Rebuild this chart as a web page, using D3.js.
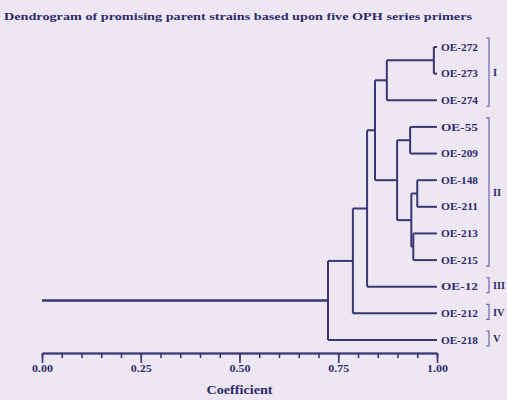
<!DOCTYPE html>
<html><head><meta charset="utf-8">
<script src="https://cdn.jsdelivr.net/npm/d3@7"></script>
<style>
html,body{margin:0;padding:0;background:#ece7f2;}
svg{display:block;}
text{font-family:"Liberation Serif","DejaVu Serif",serif;font-weight:bold;fill:#2e2b6b;}
</style></head>
<body>
<svg id="chart" width="507" height="400"></svg>
<script>
// ---- data ----
const titleText = "Dendrogram of promising parent strains based upon five OPH series primers";
const axisTitle = "Coefficient";
const leafNames = ["OE-272","OE-273","OE-274","OE-55","OE-209","OE-148","OE-211","OE-213","OE-215","OE-12","OE-212","OE-218"];
// merges (linkage): node ids 0..11 are leaves, merge k creates node 12+k
const mergeA = [0, 12, 3, 5, 7, 15, 14, 13, 19, 20, 21];
const mergeB = [1, 2, 4, 6, 8, 16, 17, 18, 9, 10, 11];
const mergeHeight = [0.992, 0.873, 0.932, 0.950, 0.940, 0.935, 0.899, 0.843, 0.823, 0.787, 0.724];
const tickValuesMajor = [0, 0.25, 0.5, 0.75, 1.0];
const tickValuesMinor = d3.range(0, 21).map(i => i / 20);
const groupNames = ["I","II","III","IV","V"];
const groupFirst = ["OE-272","OE-55","OE-12","OE-212","OE-218"];
const groupLast  = ["OE-274","OE-215","OE-12","OE-212","OE-218"];

// ---- drawing ----
const svg = d3.select("#chart");
const ink = "#3a3573";
const x = d3.scaleLinear().domain([0, 1]).range([42, 437]);
const y = d3.scalePoint().domain(leafNames).range([47, 340]);

svg.append("text").attr("x", 4).attr("y", 20)
  .attr("font-size", 11).attr("textLength", 468).attr("lengthAdjust", "spacingAndGlyphs")
  .text(titleText);

// node positions
const nodes = leafNames.map(n => ({y: y(n), h: 1}));
mergeA.forEach((a, k) => {
  const b = mergeB[k];
  nodes.push({y: (nodes[a].y + nodes[b].y) / 2, h: mergeHeight[k], a, b});
});

const g = svg.append("g").attr("fill", "none").attr("stroke", ink).attr("stroke-width", 2);
mergeA.forEach((a, k) => {
  const n = nodes[12 + k];
  const b = mergeB[k];
  const xn = x(n.h);
  g.append("line").attr("x1", xn).attr("x2", xn).attr("y1", nodes[a].y).attr("y2", nodes[b].y);
  [a, b].forEach(c => {
    g.append("line").attr("x1", xn).attr("x2", x(nodes[c].h)).attr("y1", nodes[c].y).attr("y2", nodes[c].y);
  });
});
// root stem
const root = nodes[nodes.length - 1];
g.append("line").attr("x1", x(0)).attr("x2", x(root.h)).attr("y1", root.y).attr("y2", root.y).attr("stroke-width", 2.5);

// leaf labels
svg.append("g").selectAll("text").data(leafNames).join("text")
  .attr("x", x(1) + 4).attr("y", d => y(d)).attr("dy", "0.35em")
  .attr("font-size", 10.5).attr("textLength", 37).attr("lengthAdjust", "spacingAndGlyphs")
  .text(d => d);

// group brackets
const bx = 489;
const br = svg.append("g");
groupNames.forEach((gname, i) => {
  const y0 = y(groupFirst[i]) - 9, y1 = y(groupLast[i]) + 6;
  br.append("path").attr("fill", "none").attr("stroke", "#6a66a0").attr("stroke-width", 1.2)
    .attr("d", `M${bx-3},${y0}H${bx}V${y1}H${bx-3}`);
  const t = br.append("text").attr("x", bx + 4).attr("y", (y0 + y1) / 2).attr("dy", "0.35em")
    .attr("font-size", 10.5).attr("font-weight", "normal").text(gname);
  if (gname.length > 2) t.attr("textLength", 12).attr("lengthAdjust", "spacingAndGlyphs");
});

// axis
const axisY = 353;
const minor = svg.append("g").attr("transform", `translate(0,${axisY})`)
  .call(d3.axisBottom(x).tickValues(tickValuesMinor).tickSize(5).tickFormat("").tickSizeOuter(0));
const major = svg.append("g").attr("transform", `translate(0,${axisY})`)
  .call(d3.axisBottom(x).tickValues(tickValuesMajor).tickSize(10).tickPadding(2).tickFormat(d3.format(".2f")).tickSizeOuter(0));
[minor, major].forEach(a => {
  a.selectAll("path,line").attr("stroke", ink).attr("stroke-width", 1.6);
});
major.select(".domain").attr("stroke-width", 2);
major.selectAll("text").attr("font-size", 10.5).attr("fill", "#2e2b6b")
  .attr("font-family", "Liberation Serif, DejaVu Serif, serif").attr("font-weight", "bold")
  .attr("textLength", 21).attr("lengthAdjust", "spacingAndGlyphs");

svg.append("text").attr("x", x(0.5)).attr("y", 394).attr("text-anchor", "middle")
  .attr("font-size", 12.5).attr("textLength", 66).attr("lengthAdjust", "spacingAndGlyphs").text(axisTitle);
</script>
</body></html>
